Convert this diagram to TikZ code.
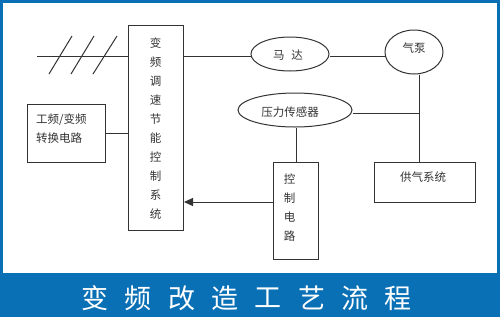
\documentclass[tikz,border=0pt]{standalone}
\usepackage{fontspec}
\setmainfont{Noto Sans CJK SC}
\usetikzlibrary{arrows.meta,shapes.geometric}
\definecolor{frameblue}{HTML}{0A70B6}
\definecolor{linegray}{HTML}{333333}
\begin{document}
\begin{tikzpicture}[x=1pt,y=-1pt,
  ln/.style={draw=linegray,line width=1pt},
  boxn/.style={ln,rectangle,inner sep=0pt,anchor=north west},
  elln/.style={ln,ellipse,inner sep=0pt},
  lbl/.style={font=\fontsize{11.5}{19}\selectfont,text=black!80,inner sep=0pt}
]
\useasboundingbox (0,0) rectangle (500,317);
\fill[frameblue] (0,0) rectangle (500,317);
\fill[white] (2.5,3) rectangle (497,273);
% boxes
\node[boxn,minimum width=55pt,minimum height=205pt] (ctrl) at (128,25) {};
\node[lbl,align=center] at (155.5,129) {变\\频\\调\\速\\节\\能\\控\\制\\系\\统};
\node[boxn,minimum width=78pt,minimum height=58pt] (conv) at (27,104) {};
\node[lbl,align=left,anchor=west] at (36,128.5) {工频/变频\\转换电路};
\node[boxn,minimum width=45pt,minimum height=97pt] (circ) at (273,162) {};
\node[lbl,align=center] at (289.5,208) {控\\制\\电\\路};
\node[boxn,minimum width=101pt,minimum height=40pt] (supply) at (374,162) {};
\node[lbl] at (423,177) {供气系统};
% ellipses
\node[elln,minimum width=78pt,minimum height=34pt] (motor) at (290,54) {};
\node[lbl] at (288,55) {马\hspace{0.6em}达};
\node[elln,minimum width=58pt,minimum height=44pt] (pump) at (414,52) {};
\node[lbl] at (414,48) {气泵};
\node[elln,minimum width=114pt,minimum height=34pt] (sensor) at (295,110) {};
\node[lbl] at (290,112) {压力传感器};
% coordinates
\coordinate (inL) at (37,56);
\coordinate (jn) at (419,113);
% connectors
\draw[ln] (inL) -- (ctrl.west |- inL);
\draw[ln] (49,74) -- (72,36);
\draw[ln] (71,74) -- (94,36);
\draw[ln] (93,74) -- (117,36);
\draw[ln] (ctrl.east |- 0,56) -- (motor.west |- 0,56);
\draw[ln] (motor.east |- 0,56) -- (pump.west |- 0,56);
\draw[ln] (conv.east |- 0,133) -- (ctrl.west |- 0,133);
\draw[ln] (pump.south -| jn) -- (supply.north -| jn);
\draw[ln] (sensor.east |- jn) -- (jn);
\draw[ln] (sensor.south -| 296,0) -- (circ.north -| 296,0);
\draw[ln,-{Triangle[length=9pt,width=8pt]}] (circ.west |- 0,202) -- (ctrl.east |- 0,202);
% title
\foreach \c [count=\i from 0] in {变,频,改,造,工,艺,流,程}
  \node[text=white,font=\fontsize{27}{27}\selectfont,inner sep=0pt] (t\i) at (95+43.3*\i,298) {\c};
\end{tikzpicture}
\end{document}
